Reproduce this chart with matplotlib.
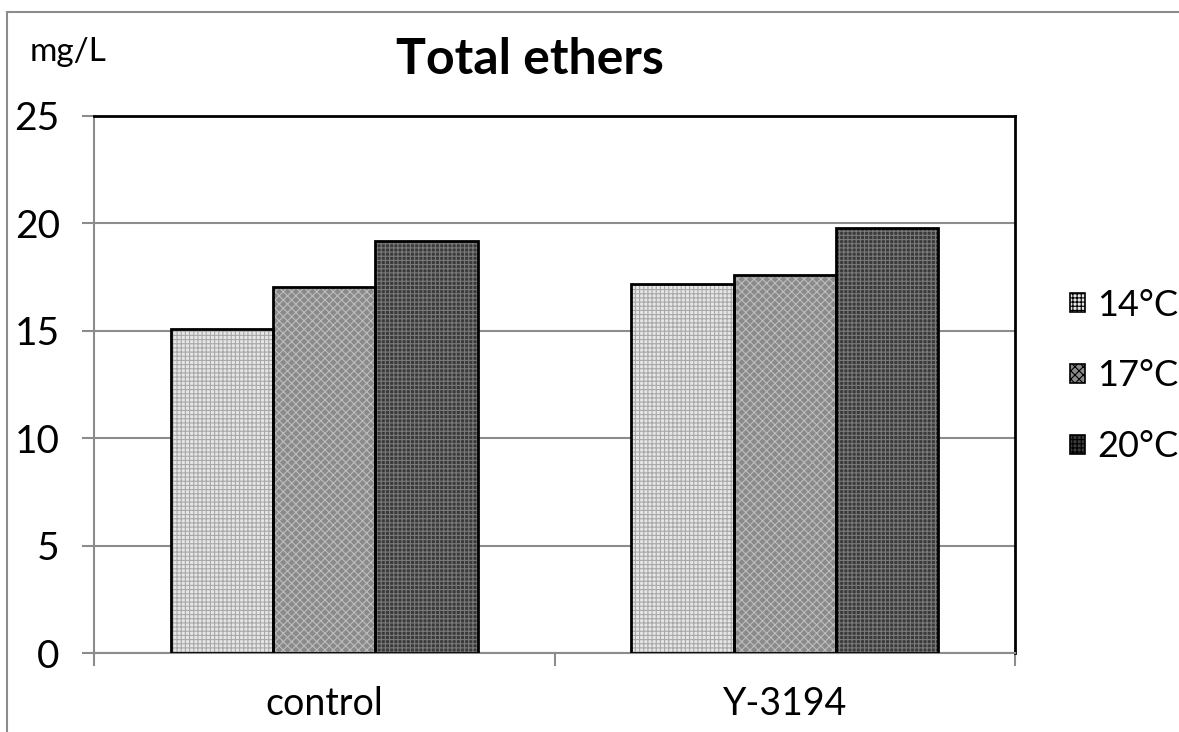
import numpy as np
import matplotlib.pyplot as plt
from matplotlib.patches import Rectangle, Patch

categories = ['control', 'Y-3194']
series = ['14°C', '17°C', '20°C']
t14 = [15.1, 17.2]
t17 = [17.05, 17.6]
t20 = [19.2, 19.8]
values = [t14, t17, t20]

plt.rcParams['font.family'] = ['Lato', 'DejaVu Sans']

# face colour, hatch, hatch colour
styles = [('#e6e6e6', '++++', '#a8a8a8'),
          ('#8a8a8a', 'xxxx', '#bdbdbd'),
          ('#3a3a3a', '++++', '#7a7a7a')]

fig = plt.figure(figsize=(11.79, 7.32), dpi=100)
ax = fig.add_axes([94/1179, 1-653/732, (1015-94)/1179, (653-116)/732])

# outer chart frame (cropped on right and bottom)
fig.patches.append(Rectangle((7/1179, -0.1), 1.2, 1-12/732+0.1, transform=fig.transFigure,
                             fill=False, edgecolor='#8c8c8c', linewidth=1.5))

x = np.arange(len(categories))
w = 0.2225
plt.rcParams['hatch.linewidth'] = 0.8
for i, (vals, (fc, hatch, hc)) in enumerate(zip(values, styles)):
    pos = x + (i - 1) * w
    ax.bar(pos, vals, w, color=fc, hatch=hatch, edgecolor=hc, linewidth=0, zorder=2)
    ax.bar(pos, vals, w, fill=False, edgecolor='black', linewidth=2, zorder=3)

ax.set_xlim(-0.5, 1.5)
ax.set_ylim(0, 25)
ax.set_yticks([0, 5, 10, 15, 20, 25])
ax.set_xticks([-0.5, 0.5, 1.5])
ax.set_xticklabels([])
ax.set_xticks(x, minor=True)
ax.set_xticklabels(categories, minor=True)
ax.tick_params(axis='x', which='minor', length=0, labelsize=27, pad=24)
ax.tick_params(axis='x', which='major', length=9.4, width=1.5, color='#8c8c8c')
ax.tick_params(axis='y', length=8.6, width=1.5, color='#8c8c8c', labelsize=28, pad=16)
ax.yaxis.grid(True, color='#8c8c8c', linewidth=1.5, zorder=0)
ax.set_axisbelow(True)

for s in ['left', 'bottom']:
    ax.spines[s].set_color('#8c8c8c')
    ax.spines[s].set_linewidth(1.5)
for s in ['top', 'right']:
    ax.spines[s].set_color('black')
    ax.spines[s].set_linewidth(2)

fig.text(530/1179, 1-74/732, 'Total ethers', fontsize=36, fontweight='bold',
         ha='center', va='baseline')
fig.text(30/1179, 1-61/732, 'mg/L', fontsize=24, ha='left', va='baseline')

handles = [Patch(facecolor=fc, hatch=h, edgecolor='black', linewidth=1.2)
           for fc, h, hc in styles]
plt.rcParams['hatch.color'] = '#9a9a9a'
fig.legend(handles, series, loc='center left', bbox_to_anchor=(1070/1179, 1-376/732),
           frameon=False, fontsize=26, handlelength=0.42, handleheight=0.42,
           handletextpad=0.33, labelspacing=1.05, borderpad=0, borderaxespad=0)

fig.savefig('out.png', dpi=100)
